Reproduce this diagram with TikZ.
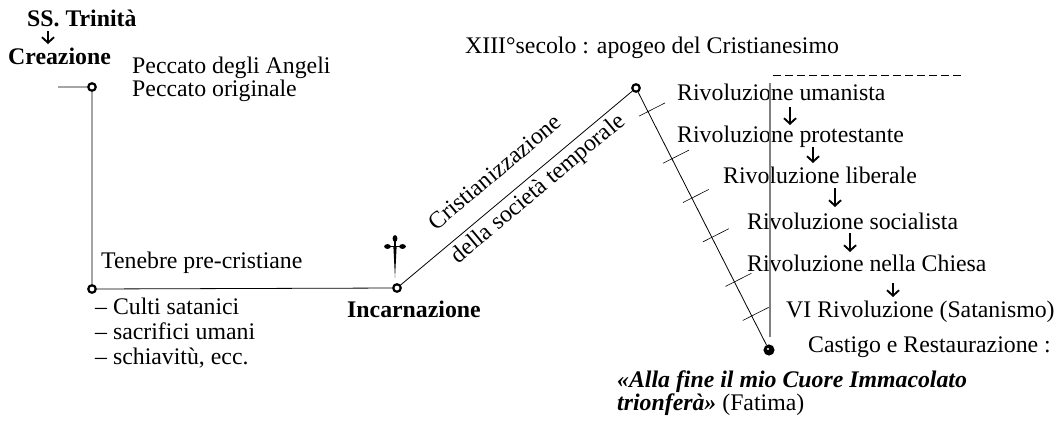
\documentclass[tikz,border=0pt]{standalone}
\usepackage{fontspec}
\setmainfont{Liberation Serif}
\usetikzlibrary{calc,arrows.meta}
\begin{document}
\begin{tikzpicture}[x=1pt,y=-1pt,
  txt/.style={anchor=base west,inner sep=0pt,font=\fontsize{23.8}{23}\selectfont},
  btxt/.style={anchor=base west,inner sep=0pt,font=\fontsize{23.8}{23}\selectfont\bfseries},
  bitxt/.style={anchor=base west,inner sep=0pt,font=\fontsize{23.8}{23}\selectfont\bfseries\itshape},
  slant/.style={anchor=base,inner sep=0pt,rotate=40,font=\fontsize{23.8}{23}\selectfont},
  dot/.style={circle,draw,line width=2.2pt,fill=white,minimum size=7.5pt,inner sep=0pt},
  enddot/.style={circle,draw,line width=2pt,fill=black,minimum size=9pt,inner sep=0pt},
  arr/.style={line width=1.9pt,-{Straight Barb[length=5.5pt,width=12pt,line width=1.9pt]}},
  mainline/.style={line width=0.8pt},
  tickline/.style={line width=0.6pt},
  grayline/.style={line width=1.2pt,draw=black!50},
  dashline/.style={line width=0.9pt,dash pattern=on 8pt off 4pt}]
\useasboundingbox (0,0) rectangle (1064,423);

% texts
\node[btxt] (trin) at (27,27) {SS. Trinità};
\node[btxt] (crea) at (8,64) {Creazione};
\node[txt] (pecc1) at (132,73) {Peccato degli Angeli};
\node[txt] (pecc2) at (132,96) {Peccato originale};
\node[txt] (ten) at (101,268) {Tenebre pre-cristiane};
\node[txt] (culti1) at (95,314) {– Culti satanici};
\node[txt] (culti2) at (95,339) {– sacrifici umani};
\node[txt] (culti3) at (95,364) {– schiavitù, ecc.};
\node[btxt] (incarn) at (347,317) {Incarnazione};
\node[txt] (xiii) at (465,53) {XIII°secolo : apogeo del Cristianesimo};
\node[txt] (r1) at (677,100) {Rivoluzione umanista};
\node[txt] (r2) at (677,142) {Rivoluzione protestante};
\node[txt] (r3) at (723,183) {Rivoluzione liberale};
\node[txt] (r4) at (747,229) {Rivoluzione socialista};
\node[txt] (r5) at (747,271) {Rivoluzione nella Chiesa};
\node[txt] (r6) at (786,317) {VI Rivoluzione (Satanismo)};
\node[txt] (cast) at (808,352) {Castigo e Restaurazione :};
\node[bitxt] (fat1) at (617,387) {«Alla fine il mio Cuore Immacolato};
\node[txt] (fat2) at (617,410) {{\bfseries\itshape trionferà»} (Fatima)};

% points of the timeline
\coordinate (h0) at (58,87);
\node[dot] (A) at (92,87) {};
\node[dot] (B) at (92,289) {};
\node[dot] (C) at (397,288) {};
\node[dot] (D) at (636,88) {};
\node[enddot] (E) at (769,350) {};
\fill[white] ($(E)+(-1,-1)$) circle [radius=1.1];
\draw[mainline] (h0) -- (A) -- (B) -- (C) -- (D) -- (E);

% ticks on the descent
\foreach \f in {0.09,0.27,0.42,0.57,0.74,0.87}
  \draw[tickline] ($(D)!\f!(E)!19pt!90:(E)$) -- ($(D)!\f!(E)!10pt!-90:(E)$);

% slanted labels
\node[slant] (crist) at ($(C)!0.479!(D)!18.5pt!90:(D)$) {Cristianizzazione};
\node[slant] (soc) at ($(C)!0.551!(D)!21pt!-90:(D)$) {della società temporale};

% cross
\fill (393.4,247) -- (396.6,247) -- (395,278) -- cycle;
\draw[line width=1.5pt] (388,246.5) -- (402,246.5);
\draw[line width=1.5pt] (395,239) -- (395,249);
\fill (395,238.5) ellipse [x radius=2.4, y radius=3.4];
\fill (387.5,246.5) ellipse [x radius=3.4, y radius=2.4];
\fill (402.5,246.5) ellipse [x radius=3.4, y radius=2.4];

% gray line and dashed line
\coordinate (g1) at (770,83);
\coordinate (g2) at (770,337);
\draw[grayline] (g1) -- (g2);
\coordinate (d1) at (773,75);
\coordinate (d2) at (961,75);
\draw[dashline] (d1) -- (d2);

% small arrows
\draw[arr] ([shift={(21,4)}]trin.base west) -- ([shift={(40,-20)}]crea.base west);
\draw[arr] ([shift={(113,7)}]r1.base west) -- ([shift={(113,-17)}]r2.base west);
\draw[arr] ([shift={(136,5)}]r2.base west) -- ([shift={(90,-20)}]r3.base west);
\draw[arr] ([shift={(112,5)}]r3.base west) -- ([shift={(88,-22)}]r4.base west);
\draw[arr] ([shift={(103,4)}]r4.base west) -- ([shift={(103,-19)}]r5.base west);
\draw[arr] ([shift={(146,12)}]r5.base west) -- ([shift={(107,-20)}]r6.base west);
\end{tikzpicture}
\end{document}
